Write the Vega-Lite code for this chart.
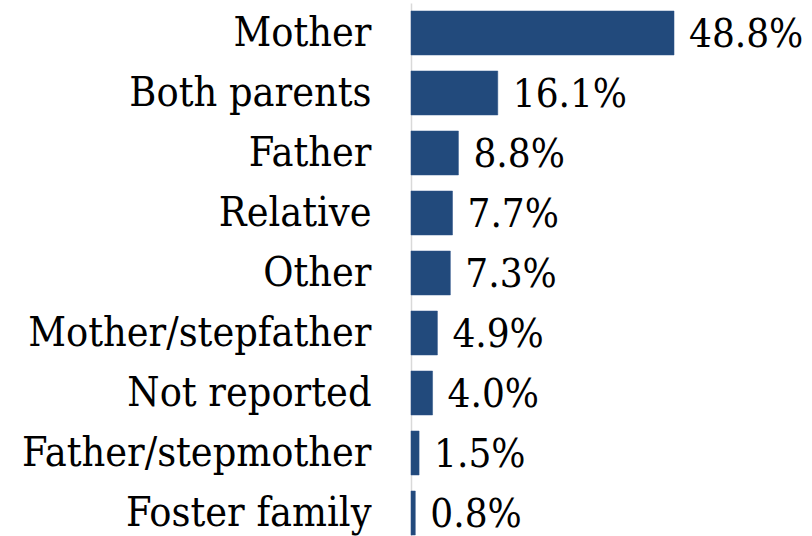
{
  "$schema": "https://vega.github.io/schema/vega-lite/v6.json",
  "autosize": "none",
  "width": 401,
  "height": 540,
  "padding": {"left": 411, "top": 3, "right": 0, "bottom": 0},
  "background": "white",
  "config": {"view": {"stroke": null}, "font": "DejaVu Serif Condensed"},
  "data": {"values": [
    {"category": "Mother", "pct": 48.8, "label": "48.8%"},
    {"category": "Both parents", "pct": 16.1, "label": "16.1%"},
    {"category": "Father", "pct": 8.8, "label": "8.8%"},
    {"category": "Relative", "pct": 7.7, "label": "7.7%"},
    {"category": "Other", "pct": 7.3, "label": "7.3%"},
    {"category": "Mother/stepfather", "pct": 4.9, "label": "4.9%"},
    {"category": "Not reported", "pct": 4.0, "label": "4.0%"},
    {"category": "Father/stepmother", "pct": 1.5, "label": "1.5%"},
    {"category": "Foster family", "pct": 0.8, "label": "0.8%"}
  ]},
  "encoding": {
    "y": {"field": "category", "type": "nominal", "sort": null,
      "scale": {"paddingInner": 0.2667, "paddingOuter": 0.1333},
      "axis": {"title": null, "ticks": false, "domainColor": "#d9d9d9", "domainWidth": 1.5,
        "labelPadding": 40, "labelFontSize": 41, "labelColor": "#000000", "labelFont": "DejaVu Serif Condensed", "labelLimit": 500, "labelOffset": 1}},
    "x": {"field": "pct", "type": "quantitative", "scale": {"domain": [0, 74.4]}, "axis": null}
  },
  "layer": [
    {"mark": {"type": "bar", "color": "#224A7C", "stroke": "#2c5388", "strokeWidth": 0.5}},
    {"mark": {"type": "text", "align": "left", "baseline": "middle", "dx": 15, "dy": 2, "fontSize": 40, "color": "#000000", "font": "DejaVu Serif Condensed"},
     "encoding": {"text": {"field": "label", "type": "nominal"}}}
  ]
}
